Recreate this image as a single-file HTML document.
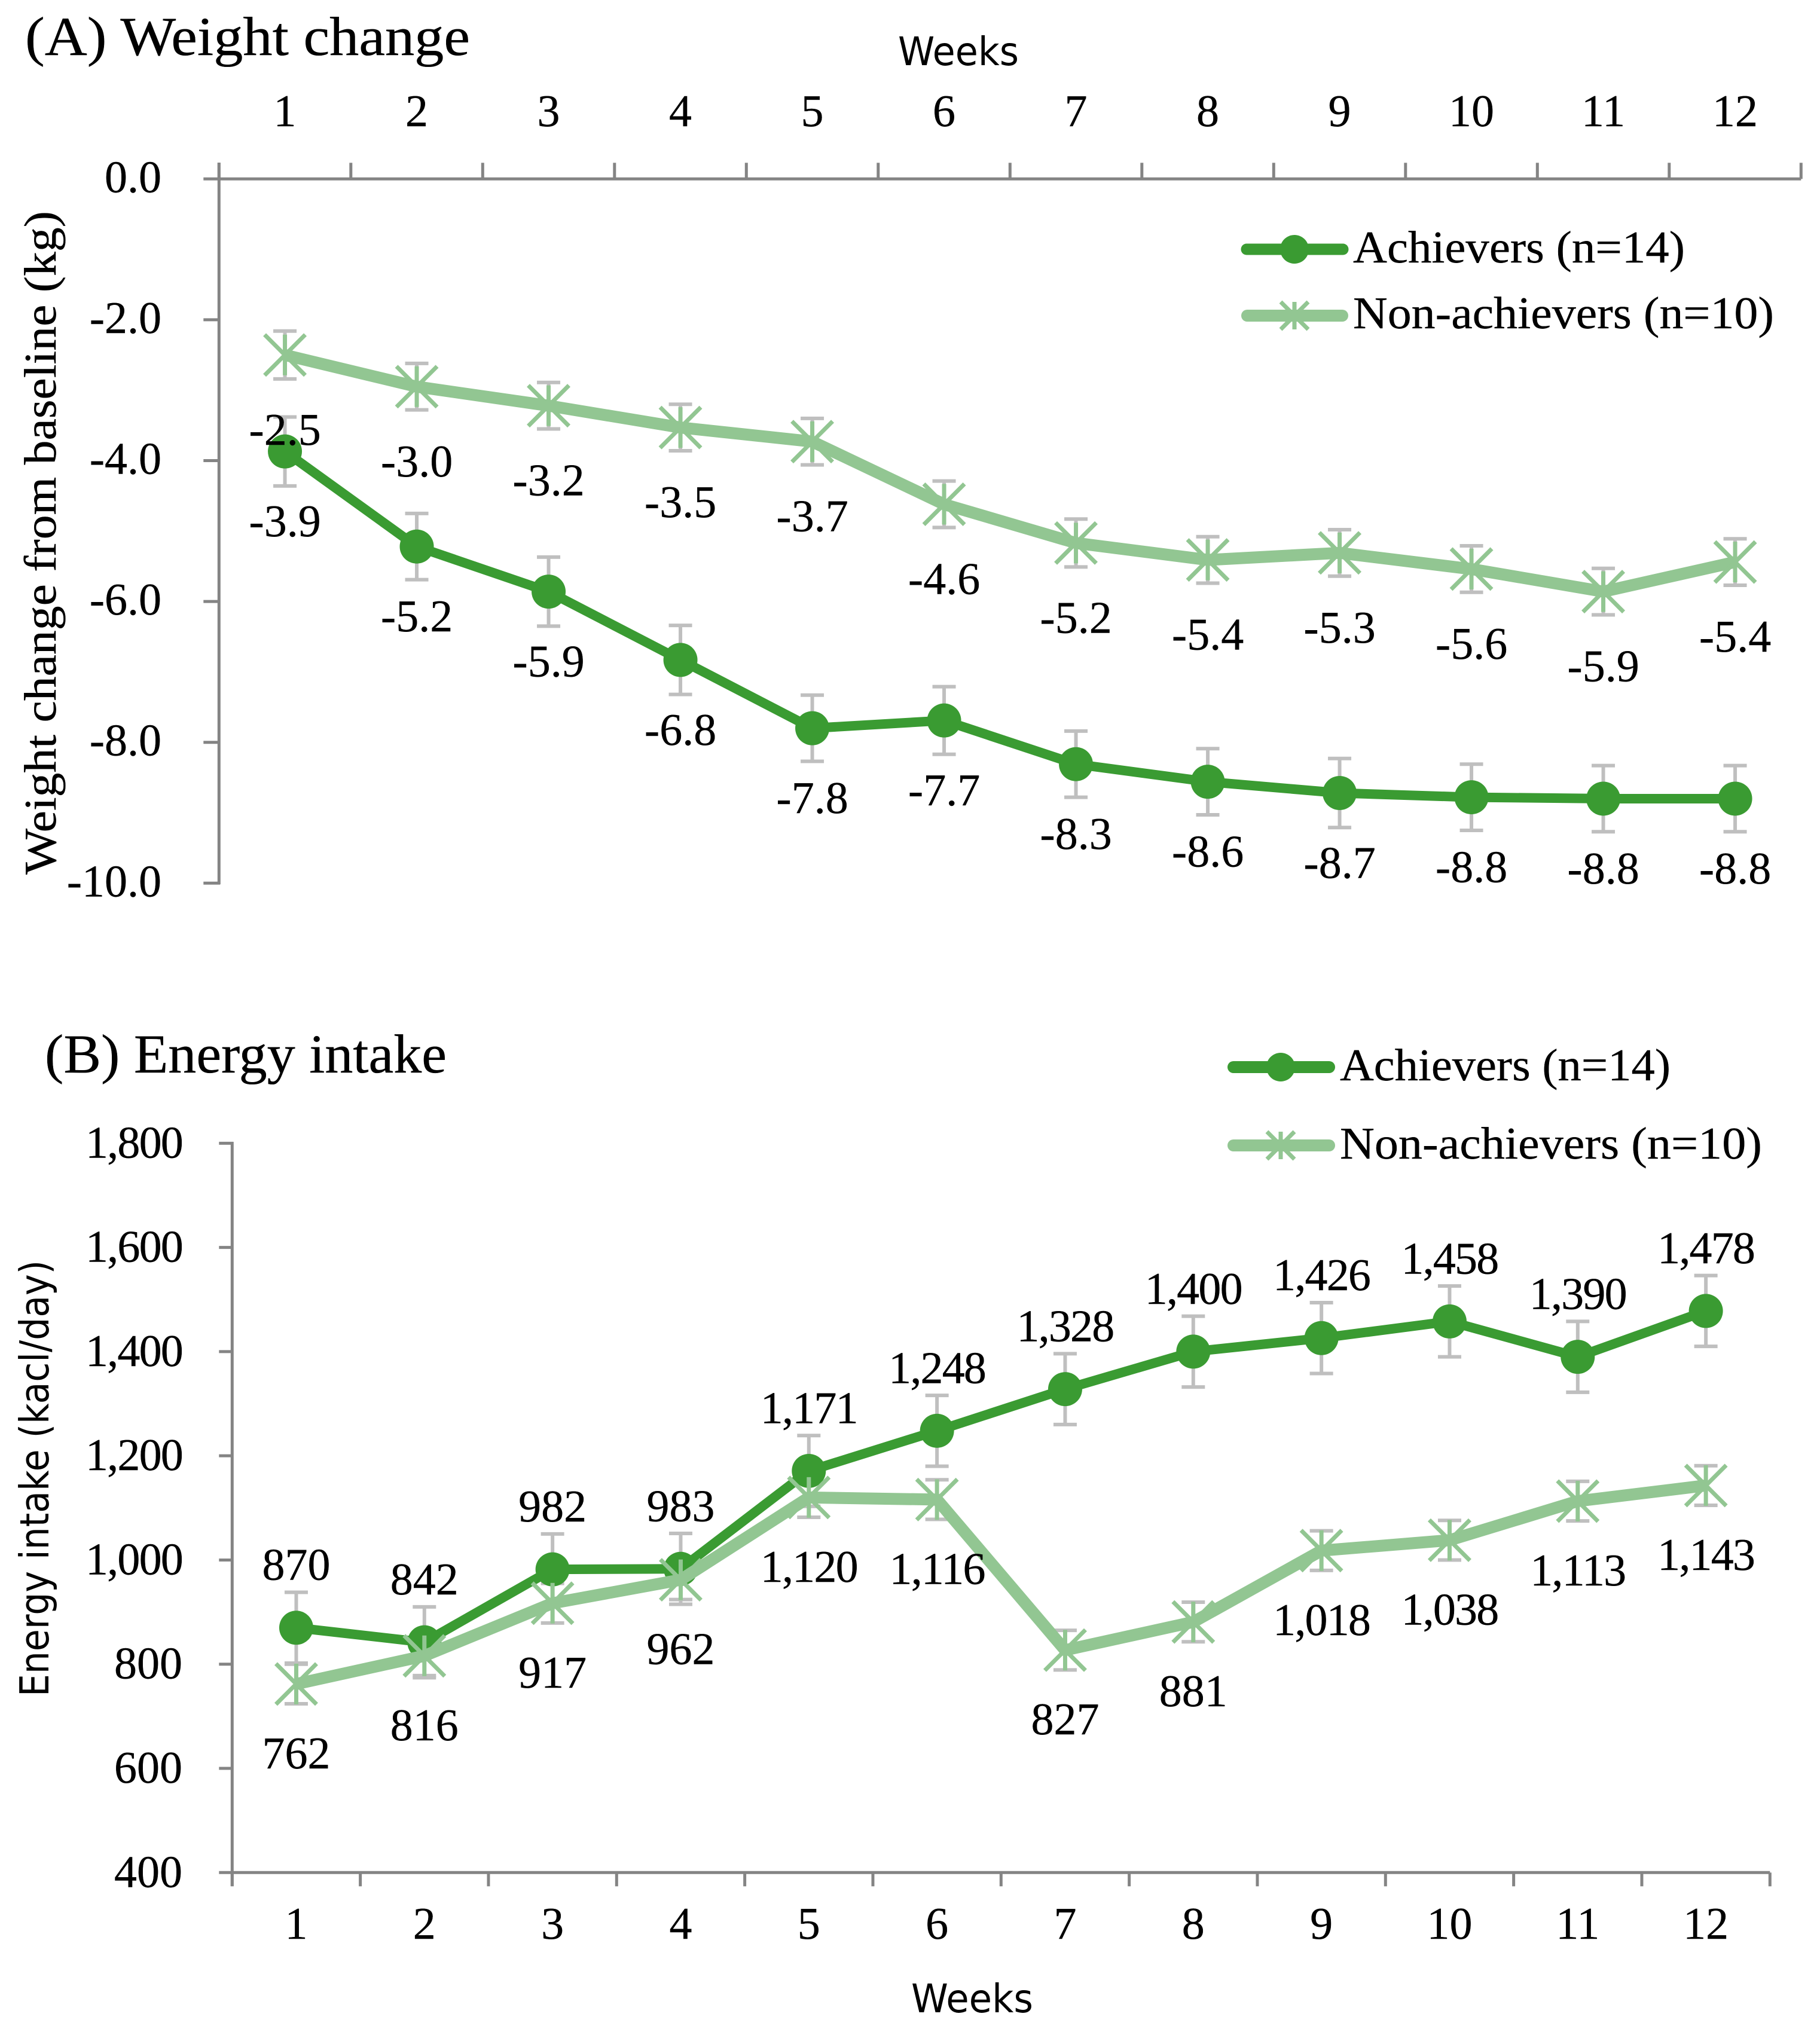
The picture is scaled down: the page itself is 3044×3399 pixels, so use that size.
<!DOCTYPE html>
<html lang="en">
<head>
<meta charset="utf-8">
<title>Weight change and energy intake</title>
<style>
html,body{margin:0;padding:0;background:#fff}
svg{display:block;text-rendering:geometricPrecision}
.s{font-family:"Liberation Serif",serif;fill:#000;stroke:#000;stroke-width:0.4px}
.d{font-family:"DejaVu Sans",sans-serif;fill:#000}
</style>
</head>
<body>
<svg id="figure" xmlns="http://www.w3.org/2000/svg" width="3044" height="3399" viewBox="0 0 3044 3399">
<rect width="3044" height="3399" fill="#fff"/>
<g id="panel-a">
<text class="s" x="42" y="92" font-size="92" textLength="744" lengthAdjust="spacingAndGlyphs">(A) Weight change</text>
<text class="d" x="1603" y="109" font-size="66" text-anchor="middle" textLength="202" lengthAdjust="spacingAndGlyphs">Weeks</text>
<text class="s" transform="translate(93,1463) rotate(-90)" font-size="76" textLength="1110" lengthAdjust="spacingAndGlyphs">Weight change from baseline (kg)</text>
<g>
<g>
<circle cx="2165" cy="417" r="24" fill="#3A9B32"/>
<line x1="2085" x2="2246" y1="417" y2="417" stroke="#3A9B32" stroke-width="19" stroke-linecap="round"/>
<text class="s" x="2263" y="439" font-size="76" textLength="555" lengthAdjust="spacingAndGlyphs">Achievers (n=14)</text>
</g>
<g>
<path d="M2142 505l46 46M2188 505l-46 46M2165 505v46" transform="translate(0,0)" stroke="#92C692" stroke-width="7" fill="none"/>
<line x1="2086" x2="2245" y1="528" y2="528" stroke="#92C692" stroke-width="20" stroke-linecap="round"/>
<text class="s" x="2263" y="549" font-size="76" textLength="704" lengthAdjust="spacingAndGlyphs">Non-achievers (n=10)</text>
</g>
</g>
</g>
<g id="panel-b">
<text class="s" x="75" y="1794" font-size="92" textLength="672" lengthAdjust="spacingAndGlyphs">(B) Energy intake</text>
<text class="d" x="1626" y="3366" font-size="66" text-anchor="middle" textLength="204" lengthAdjust="spacingAndGlyphs">Weeks</text>
<text class="d" transform="translate(81,2838) rotate(-90)" font-size="67" textLength="730" lengthAdjust="spacingAndGlyphs">Energy intake (kacl/day)</text>
<g>
<g>
<circle cx="2142" cy="1785" r="24" fill="#3A9B32"/>
<line x1="2063" x2="2223" y1="1785" y2="1785" stroke="#3A9B32" stroke-width="20" stroke-linecap="round"/>
<text class="s" x="2241" y="1807" font-size="76" textLength="553" lengthAdjust="spacingAndGlyphs">Achievers (n=14)</text>
</g>
<g>
<path d="M2119 1893l46 46M2165 1893l-46 46M2142 1893v46" stroke="#92C692" stroke-width="7" fill="none"/>
<line x1="2063" x2="2223" y1="1916" y2="1916" stroke="#92C692" stroke-width="20" stroke-linecap="round"/>
<text class="s" x="2241" y="1938" font-size="76" textLength="706" lengthAdjust="spacingAndGlyphs">Non-achievers (n=10)</text>
</g>
</g>
</g>
</svg>
<script>
const weeks = ["1","2","3","4","5","6","7","8","9","10","11","12"];

const weightTicks = [0,-2,-4,-6,-8,-10];
const weightTickLabels = ["0.0","-2.0","-4.0","-6.0","-8.0","-10.0"];
const weightAchievers = [-3.87,-5.22,-5.86,-6.83,-7.80,-7.69,-8.31,-8.56,-8.72,-8.78,-8.80,-8.80];
const weightAchieversErr = [0.49,0.47,0.49,0.49,0.47,0.48,0.47,0.47,0.49,0.47,0.47,0.47];
const weightAchieversLabels = ["-3.9","-5.2","-5.9","-6.8","-7.8","-7.7","-8.3","-8.6","-8.7","-8.8","-8.8","-8.8"];
const weightNon = [-2.50,-2.95,-3.22,-3.53,-3.73,-4.62,-5.17,-5.41,-5.31,-5.54,-5.86,-5.44];
const weightNonErr = [0.34,0.33,0.33,0.33,0.33,0.33,0.34,0.33,0.33,0.33,0.33,0.33];
const weightNonLabels = ["-2.5","-3.0","-3.2","-3.5","-3.7","-4.6","-5.2","-5.4","-5.3","-5.6","-5.9","-5.4"];

const energyTicks = [1800,1600,1400,1200,1000,800,600,400];
const energyTickLabels = ["1,800","1,600","1,400","1,200","1,000","800","600","400"];
const energyAchievers = [870,842,982,983,1171,1248,1328,1400,1426,1458,1390,1478];
const energyAchieversErr = [68,68,68,68,68,68,68,68,68,68,68,68];
const energyNon = [762,816,917,962,1120,1116,827,881,1018,1038,1113,1143];
const energyNonErr = [38,38,38,38,38,38,38,38,38,38,38,38];

const NS = "http://www.w3.org/2000/svg";
const DARK = "#3A9B32", LIGHT = "#92C692", AXIS = "#848484", ERR = "#BFBFBF";

function el(tag, parent, attrs, text) {
  const e = document.createElementNS(NS, tag);
  for (const k in attrs) e.setAttribute(k, attrs[k]);
  if (text !== undefined) e.textContent = text;
  parent.appendChild(e);
  return e;
}

function drawAxes(p, g, x, y, ticks, tickLabels, prefix) {
  // value axis
  const vAxis = el("line", g, {x1:p.left, x2:p.left, y1:p.vStart, y2:p.vEnd, stroke:AXIS, "stroke-width":5});
  
  
  ticks.forEach(function (t, i) {
    const tk = el("line", g, {x1:p.left - p.vTick, x2:p.left + 2, y1:y(t), y2:y(t), stroke:AXIS, "stroke-width":5});
    
    
    const lb = el("text", g, {class:"s", x:p.vLabelX, y:y(t) + p.vLabelDy, "font-size":76, "text-anchor":"end", "letter-spacing":tickLabels[i].indexOf(",") >= 0 ? -1.8 : 0}, tickLabels[i]);
    
    
  });
  // category axis
  const cAxis = el("line", g, {x1:p.left, x2:p.right, y1:p.cY, y2:p.cY, stroke:AXIS, "stroke-width":5});
  
  
  for (let i = 0; i <= weeks.length; i++) {
    const tx = p.left + (p.right - p.left) * i / weeks.length;
    const tk = el("line", g, {x1:tx, x2:tx, y1:p.cY, y2:p.cY + p.cTick, stroke:AXIS, "stroke-width":5});
    
    
  }
  weeks.forEach(function (w, i) {
    const lb = el("text", g, {class:"s", x:x(i), y:p.cLabelY, "font-size":76, "text-anchor":"middle"}, w);
    
    
  });
}

function drawErrors(g, x, y, values, errs, name) {
  values.forEach(function (v, i) {
    const cx = x(i), y1 = y(v + errs[i]), y2 = y(v - errs[i]);
    const eg = el("g", g, {stroke:ERR, "stroke-width":6, fill:"none"});
    
    
    el("line", eg, {x1:cx, x2:cx, y1:y1, y2:y2});
    el("line", eg, {x1:cx - 19.5, x2:cx + 19.5, y1:y1, y2:y1});
    el("line", eg, {x1:cx - 19.5, x2:cx + 19.5, y1:y2, y2:y2});
  });
}

function polyline(g, x, y, values, color, width, name) {
  const pts = values.map(function (v, i) { return x(i) + "," + y(v); }).join(" ");
  const l = el("polyline", g, {points:pts, fill:"none", stroke:color, "stroke-width":width, "stroke-linejoin":"round"});
  
  
}

function circles(g, x, y, values, name) {
  values.forEach(function (v, i) {
    const c = el("circle", g, {cx:x(i), cy:y(v), r:28.5, fill:DARK});
    
    
  });
}

function stars(g, x, y, values, name) {
  values.forEach(function (v, i) {
    const cx = x(i), cy = y(v), r = 34;
    const s = el("path", g, {
      d:"M" + (cx - r) + " " + (cy - r) + "L" + (cx + r) + " " + (cy + r) +
        "M" + (cx + r) + " " + (cy - r) + "L" + (cx - r) + " " + (cy + r) +
        "M" + cx + " " + (cy - r) + "V" + (cy + r),
      stroke:LIGHT, "stroke-width":7, fill:"none"
    });
    
    
  });
}

function pointLabels(g, x, y, values, labels, dy, name) {
  values.forEach(function (v, i) {
    const t = el("text", g, {class:"s", x:x(i), y:y(v) + dy, "font-size":76, "text-anchor":"middle", "letter-spacing":labels[i].indexOf(",") >= 0 ? -1.8 : 0}, labels[i]);
    
    
  });
}

/* Panel A */
(function () {
  const p = {left:366.3, right:3012.3, vStart:272, vEnd:1479, vTick:26, vLabelX:270, vLabelDy:22, cY:299.3, cTick:-27, cLabelY:211};
  const g = document.getElementById("panel-a");
  const x = function (i) { return p.left + (p.right - p.left) * (i + 0.5) / weeks.length; };
  const y = function (v) { return 299.3 + (0 - v) * 117.8; };
  drawAxes(p, g, x, y, weightTicks, weightTickLabels, "weight");
  drawErrors(g, x, y, weightAchievers, weightAchieversErr, "weight-achievers");
  drawErrors(g, x, y, weightNon, weightNonErr, "weight-non-achievers");
  polyline(g, x, y, weightAchievers, DARK, 16, "weight-achievers");
  circles(g, x, y, weightAchievers, "weight-achievers");
  polyline(g, x, y, weightNon, LIGHT, 20, "weight-non-achievers");
  stars(g, x, y, weightNon, "weight-non-achievers");
  pointLabels(g, x, y, weightAchievers, weightAchieversLabels, 142, "weight-achievers");
  pointLabels(g, x, y, weightNon, weightNonLabels, 150, "weight-non-achievers");
})();

/* Panel B */
(function () {
  const p = {left:388.3, right:2960.3, vStart:1910, vEnd:3155, vTick:22, vLabelX:305, vLabelDy:24, cY:3132.3, cTick:23, cLabelY:3243};
  const g = document.getElementById("panel-b");
  const x = function (i) { return p.left + (p.right - p.left) * (i + 0.5) / weeks.length; };
  const y = function (v) { return 3132.3 - (v - 400) * 0.8714; };
  const fmt = function (v) { return v >= 1000 ? Math.floor(v / 1000) + "," + String(v % 1000).padStart(3, "0") : String(v); };
  drawAxes(p, g, x, y, energyTicks, energyTickLabels, "energy");
  drawErrors(g, x, y, energyAchievers, energyAchieversErr, "energy-achievers");
  drawErrors(g, x, y, energyNon, energyNonErr, "energy-non-achievers");
  polyline(g, x, y, energyAchievers, DARK, 16, "energy-achievers");
  circles(g, x, y, energyAchievers, "energy-achievers");
  polyline(g, x, y, energyNon, LIGHT, 20, "energy-non-achievers");
  stars(g, x, y, energyNon, "energy-non-achievers");
  pointLabels(g, x, y, energyAchievers, energyAchievers.map(fmt), -80, "energy-achievers");
  pointLabels(g, x, y, energyNon, energyNon.map(fmt), 141, "energy-non-achievers");
})();
</script>
</body>
</html>
